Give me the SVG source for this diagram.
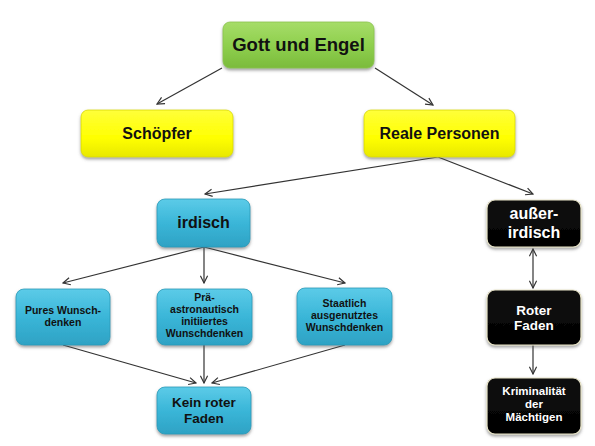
<svg xmlns="http://www.w3.org/2000/svg" width="595" height="446" viewBox="0 0 595 446">
<defs>
<linearGradient id="gGreen" x1="0" y1="0" x2="0" y2="1"><stop offset="0" stop-color="#a6dc68"/><stop offset="0.5" stop-color="#8fd04e"/><stop offset="1" stop-color="#7bbb3c"/></linearGradient>
<linearGradient id="gYellow" x1="0" y1="0" x2="0" y2="1"><stop offset="0" stop-color="#ffff3a"/><stop offset="0.6" stop-color="#ffff00"/><stop offset="1" stop-color="#e8e800"/></linearGradient>
<linearGradient id="gBlue" x1="0" y1="0" x2="0" y2="1"><stop offset="0" stop-color="#5ccbe8"/><stop offset="0.5" stop-color="#3ab6d8"/><stop offset="1" stop-color="#2ea2c4"/></linearGradient>
<linearGradient id="gBlack" x1="0" y1="0" x2="0" y2="1"><stop offset="0" stop-color="#111"/><stop offset="1" stop-color="#000"/></linearGradient>
<filter id="sh" x="-10%" y="-10%" width="120%" height="130%"><feDropShadow dx="0" dy="2" stdDeviation="1.5" flood-color="#555" flood-opacity="0.55"/></filter>
<marker id="ah" viewBox="0 0 10 10" refX="9" refY="5" markerWidth="9" markerHeight="9" markerUnits="userSpaceOnUse" orient="auto-start-reverse"><path d="M1,1 L9,5 L1,9" fill="none" stroke="#333" stroke-width="1.3"/></marker>
</defs>
<style>
.box{filter:url(#sh);}
.green{fill:url(#gGreen);stroke:#8cc34f;stroke-width:0.8}
.yellow{fill:url(#gYellow);stroke:#d8d800;stroke-width:0.8}
.blue{fill:url(#gBlue);stroke:#2a9ab8;stroke-width:0.8}
.black{fill:url(#gBlack);stroke:#e8e4c8;stroke-width:1.2}
text{font-family:"Liberation Sans",Arial,sans-serif;font-weight:bold;text-anchor:middle;fill:#111}
.w{fill:#fff}
.conn line{stroke:#333;stroke-width:1.2;marker-end:url(#ah)}
</style>
<rect width="595" height="446" fill="#fff"/>
<g id="connectors" class="conn">
<line x1="222" y1="68" x2="157" y2="104"/>
<line x1="375" y1="68" x2="433" y2="105"/>
<line x1="438" y1="157" x2="205" y2="194"/>
<line x1="438" y1="157" x2="533" y2="194"/>
<line x1="204" y1="247" x2="63" y2="283"/>
<line x1="204" y1="247" x2="204" y2="283"/>
<line x1="204" y1="247" x2="345" y2="283"/>
<line x1="533" y1="249" x2="533" y2="288" style="marker-start:url(#ah)"/>
<line x1="533" y1="345" x2="533" y2="374"/>
<line x1="63" y1="345" x2="196" y2="383"/>
<line x1="204" y1="345" x2="204" y2="383"/>
<line x1="345" y1="345" x2="212" y2="383"/>
</g>
<g id="gott"><rect class="box green" x="223" y="22" width="151" height="46" rx="7"/><text x="298.5" y="51" font-size="18.5">Gott und Engel</text></g>
<g id="schoepfer"><rect class="box yellow" x="81" y="110" width="152" height="47" rx="7"/><text x="157" y="139" font-size="16">Schöpfer</text></g>
<g id="reale"><rect class="box yellow" x="364" y="110" width="151" height="47" rx="7"/><text x="439.5" y="139" font-size="16">Reale Personen</text></g>
<g id="irdisch"><rect class="box blue" x="157" y="199" width="93" height="48" rx="8"/><text x="203.5" y="228" font-size="16">irdisch</text></g>
<g id="ausserirdisch"><rect class="box black" x="487" y="200" width="94" height="47" rx="8"/><text class="w" x="534" y="219" font-size="16">außer-</text><text class="w" x="534" y="238" font-size="16">irdisch</text></g>
<g id="pures"><rect class="box blue" x="16" y="289" width="94" height="56" rx="8"/><text x="63" y="314" font-size="10.5">Pures Wunsch-</text><text x="63" y="326" font-size="10.5">denken</text></g>
<g id="prae"><rect class="box blue" x="157" y="289" width="95" height="56" rx="8"/><text x="204.5" y="301" font-size="10.5">Prä-</text><text x="204.5" y="313" font-size="10.5">astronautisch</text><text x="204.5" y="325" font-size="10.5">initiiertes</text><text x="204.5" y="337" font-size="10.5">Wunschdenken</text></g>
<g id="staatlich"><rect class="box blue" x="297" y="288" width="95" height="57" rx="8"/><text x="344.5" y="307" font-size="10.5">Staatlich</text><text x="344.5" y="319" font-size="10.5">ausgenutztes</text><text x="344.5" y="331" font-size="10.5">Wunschdenken</text></g>
<g id="roter"><rect class="box black" x="487" y="290" width="94" height="55" rx="8"/><text class="w" x="534" y="315" font-size="13.5">Roter</text><text class="w" x="534" y="330" font-size="13.5">Faden</text></g>
<g id="kriminal"><rect class="box black" x="487" y="378" width="94" height="56" rx="8"/><text class="w" x="534" y="395" font-size="11.5">Kriminalität</text><text class="w" x="534" y="408" font-size="11.5">der</text><text class="w" x="534" y="421" font-size="11.5">Mächtigen</text></g>
<g id="kein"><rect class="box blue" x="157" y="387" width="94" height="47" rx="8"/><text x="204" y="407" font-size="13.5">Kein roter</text><text x="204" y="423" font-size="13.5">Faden</text></g>
</svg>
